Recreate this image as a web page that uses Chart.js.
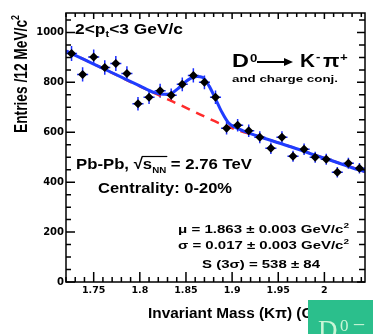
<!DOCTYPE html>
<html><head><meta charset="utf-8">
<script src="https://cdn.jsdelivr.net/npm/chart.js@4"></script>
<style>html,body{margin:0;padding:0;background:#fff;overflow:hidden}canvas{display:block}</style>
</head><body>
<canvas id="c" width="373" height="334"></canvas>
<script>
// ---- data ----
const massBins = [1.726,1.738,1.750,1.762,1.774,1.786,1.798,1.810,1.822,1.834,1.846,1.858,1.870,1.882,1.894,1.906,1.918,1.930,1.942,1.954,1.966,1.978,1.990,2.002,2.014,2.026,2.038];
const entries  = [916,832,902,860,876,836,714,740,766,748,792,828,800,740,616,628,606,580,536,580,504,532,500,492,440,476,456];
const entryErr = [30,29,30,29,30,29,27,27,28,27,28,29,28,27,25,25,25,24,23,24,22,23,22,22,21,22,21];
const binHalfWidth = 0.006;
const fitMass = [1.72,1.74,1.76,1.78,1.80,1.815,1.825,1.833,1.841,1.848,1.855,1.862,1.868,1.875,1.882,1.889,1.896,1.903,1.912,1.93,1.95,1.97,1.99,2.01,2.03,2.044];
const fitVal  = [926,891,856,821,786,760,752,754,774,798,816,824,820,786,734,680,638,620,606,582,558,534,508,484,458,442];
const bkgMass = [1.72,1.76,1.80,1.825,1.845,1.865,1.885,1.905,1.93,1.97,2.01,2.044];
const bkgVal  = [926,856,784,741,707,672,638,610,582,534,484,442];
const xTickLabels = [1.75,1.8,1.85,1.9,1.95,2];
const yTickLabels = [0,200,400,600,800,1000];
const xRange = [1.72, 2.044];
const yRange = [0, 1078];

const FAM = '"Liberation Sans", Arial, sans-serif';
function fontStr(sz, fam, w){ return (w||'bold') + ' ' + sz + 'px ' + (fam||FAM); }
function drawRich(ctx, segs, o){
  let w = 0;
  segs.forEach(s => { ctx.font = fontStr(s.size, s.fam, s.weight); s.w = ctx.measureText(s.t).width; w += s.w + (s.gap||0); });
  const sx = o.width ? o.width / w : (o.sx||1);
  const sy = o.sy || 1;
  ctx.save();
  ctx.translate(o.x, o.y);
  if (o.rot) ctx.rotate(o.rot);
  ctx.scale(sx, sy);
  let cx = o.align==='center' ? -w/2 : o.align==='right' ? -w : 0;
  ctx.textBaseline='alphabetic'; ctx.textAlign='left'; ctx.fillStyle = o.color||'#000';
  segs.forEach(s => { ctx.font = fontStr(s.size, s.fam, s.weight); s.x = cx; ctx.fillText(s.t, cx, s.dy||0); cx += s.w + (s.gap||0); });
  if (o.post) o.post(ctx, segs);
  ctx.restore();
}

const errorBars = {
  id:'errorBars',
  beforeDatasetsDraw(chart){
    const ctx = chart.ctx, xs = chart.scales.x, ys = chart.scales.y;
    ctx.save();
    ctx.strokeStyle = '#1a2cff'; ctx.lineWidth = 1.5;
    massBins.forEach((m,i)=>{
      const px = xs.getPixelForValue(m), py = ys.getPixelForValue(entries[i]);
      ctx.beginPath();
      ctx.moveTo(px, ys.getPixelForValue(entries[i]+entryErr[i]));
      ctx.lineTo(px, ys.getPixelForValue(entries[i]-entryErr[i]));
      ctx.moveTo(xs.getPixelForValue(m-binHalfWidth), py);
      ctx.lineTo(xs.getPixelForValue(m+binHalfWidth), py);
      ctx.stroke();
    });
    ctx.restore();
  }
};

const frameAndText = {
  id:'frameAndText',
  afterDraw(chart){
    const ctx = chart.ctx, a = chart.chartArea, xs = chart.scales.x, ys = chart.scales.y;
    ctx.save();
    ctx.strokeStyle = '#000'; ctx.lineWidth = 1.5;
    ctx.strokeRect(a.left, a.top, a.right-a.left, a.bottom-a.top);
    ctx.beginPath();
    // x ticks (bottom + top)
    for (let k = Math.ceil(xRange[0]*100); k <= Math.floor(xRange[1]*100); k++){
      const v = k/100, px = xs.getPixelForValue(v);
      const major = (k % 5 === 0);
      ctx.moveTo(px, a.bottom); ctx.lineTo(px, a.bottom - (major?10:5));
      ctx.moveTo(px, a.top); ctx.lineTo(px, a.top + (major?6:4));
    }
    // y ticks (left + right)
    for (let v = 0; v <= yRange[1]; v += 50){
      const py = ys.getPixelForValue(v);
      const major = (v % 200 === 0);
      ctx.moveTo(a.left, py); ctx.lineTo(a.left + (major?9:5), py);
      ctx.moveTo(a.right, py); ctx.lineTo(a.right - (major?8:6), py);
    }
    ctx.stroke();

    // texts
    drawRich(ctx, [{t:'2<p',size:14},{t:'t',size:9,dy:3},{t:'<3 GeV/c',size:14}], {x:75, y:34, width:108});
    drawRich(ctx, [{t:'D',size:18}], {x:232, y:67, sx:1.3});
    drawRich(ctx, [{t:'0',size:11}], {x:250, y:62, sx:1.2});
    ctx.lineWidth = 2;
    ctx.beginPath(); ctx.moveTo(257, 62); ctx.lineTo(286, 62); ctx.stroke();
    ctx.beginPath(); ctx.moveTo(293, 62); ctx.lineTo(284, 58); ctx.lineTo(284, 66); ctx.closePath(); ctx.fill();
    drawRich(ctx, [{t:'K',size:18}], {x:300, y:67, sx:1.15});
    drawRich(ctx, [{t:'-',size:11}], {x:316, y:60, sx:1.2});
    drawRich(ctx, [{t:'π',size:18}], {x:323, y:67, sx:1.2});
    drawRich(ctx, [{t:'+',size:11}], {x:340, y:61, sx:1.2});
    drawRich(ctx, [{t:'and charge conj.',size:9.5}], {x:232, y:82, width:106});

    drawRich(ctx, [{t:'Pb-Pb, ',size:15.5},{t:'√',size:15.5},{t:'s',size:15.5},{t:'NN',size:9,dy:4},{t:' = 2.76 TeV',size:15.5}],
      {x:76, y:169, width:176, post:(c,s)=>{ c.lineWidth=1.2; c.beginPath(); c.moveTo(s[2].x-1, -12.5); c.lineTo(s[3].x+s[3].w+1, -12.5); c.stroke(); }});
    drawRich(ctx, [{t:'Centrality: 0-20%',size:14.5}], {x:98, y:193, width:134});

    drawRich(ctx, [{t:'μ = 1.863 ± 0.003 GeV/c',size:10.5},{t:'2',size:7,dy:-5}], {x:178, y:233, width:171});
    drawRich(ctx, [{t:'σ = 0.017 ± 0.003 GeV/c',size:10.5},{t:'2',size:7,dy:-5}], {x:178, y:249, width:171});
    drawRich(ctx, [{t:'S (3σ) = 538 ± 84',size:10.5}], {x:202, y:268, width:118});

    // axis titles
    ctx.font = fontStr(14);
    const ref = ctx.measureText('Invariant Mass (Kπ)').width;
    drawRich(ctx, [{t:'Invariant Mass (Kπ) (GeV/c',size:14},{t:'2',size:9,dy:-6},{t:')',size:14}], {x:148, y:318, sx:144/ref});
    drawRich(ctx, [{t:'Entries /12 MeV/c',size:14},{t:'2',size:9,dy:-6}], {x:27, y:133, width:118, sy:1.3, rot:-Math.PI/2});

    // overlay box at bottom right
    ctx.fillStyle = '#2bbf8c';
    ctx.fillRect(308, 300, 65, 34);
    drawRich(ctx, [{t:'D',size:27,fam:'"Liberation Serif", serif',weight:'normal'}], {x:318, y:339, sx:1, color:'#c9f5d6'});
    drawRich(ctx, [{t:'0',size:17,fam:'"Liberation Serif", serif',weight:'normal'}], {x:340, y:331, sx:1, color:'#c9f5d6'});
    drawRich(ctx, [{t:'–',size:20,fam:'"Liberation Serif", serif',weight:'normal'}], {x:354, y:330, sx:1, color:'#c9f5d6'});
    ctx.restore();
  }
};

new Chart(document.getElementById('c'), {
  data: {
    datasets: [
      { type:'scatter', label:'data', order:0,
        data: massBins.map((m,i)=>({x:m, y:entries[i]})),
        pointStyle:'rectRot', pointRadius:4.5, backgroundColor:'#000', borderWidth:0 },
      { type:'line', label:'fit', order:1,
        data: fitMass.map((m,i)=>({x:m, y:fitVal[i]})),
        borderColor:'#1f3cff', borderWidth:3, pointRadius:0, cubicInterpolationMode:'monotone', fill:false },
      { type:'line', label:'background', order:2,
        data: bkgMass.map((m,i)=>({x:m, y:bkgVal[i]})),
        borderColor:'#ff2b2b', borderWidth:2.5, borderDash:[9,7], pointRadius:0, cubicInterpolationMode:'monotone', fill:false }
    ]
  },
  options: {
    responsive:false, animation:false, devicePixelRatio:1,
    layout:{ padding:{ top:13, right:8, left:0, bottom:0 } },
    plugins:{ legend:{display:false}, tooltip:{enabled:false} },
    scales:{
      x:{ type:'linear', min:xRange[0], max:xRange[1],
          grid:{display:false, drawTicks:false}, border:{display:false},
          afterBuildTicks:(s)=>{ s.ticks = xTickLabels.map(v=>({value:v})); },
          afterFit:(s)=>{ s.height = 52; },
          ticks:{ padding:3, color:'#000', maxRotation:0, autoSkip:false,
                  font:{family:'DejaVu Sans', size:9.5, weight:'bold'}, callback:(v)=>String(v) } },
      y:{ type:'linear', min:yRange[0], max:yRange[1],
          grid:{display:false, drawTicks:false}, border:{display:false},
          afterBuildTicks:(s)=>{ s.ticks = yTickLabels.map(v=>({value:v})); },
          afterFit:(s)=>{ s.width = 66; },
          ticks:{ padding:2, color:'#000', autoSkip:false,
                  font:{family:'DejaVu Sans', size:10, weight:'bold'}, callback:(v)=>String(v) } }
    }
  },
  plugins:[errorBars, frameAndText]
});
</script>
</body></html>
